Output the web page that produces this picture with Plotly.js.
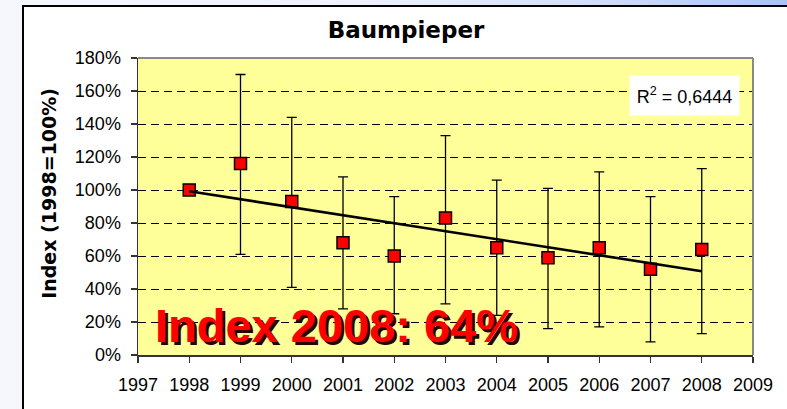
<!DOCTYPE html>
<html>
<head>
<meta charset="utf-8">
<script src="https://cdn.plot.ly/plotly-3.0.1.min.js"></script>
<style>
  html, body { margin: 0; padding: 0; width: 787px; height: 409px; overflow: hidden; }
  body { background: linear-gradient(90deg, #f5f7fd 0%, #eef2fc 45%, #d2dffa 75%, #a9c3f5 100%); position: relative; }
  #box { position: absolute; left: 22px; top: 5px; width: 800px; height: 420px; background: #ffffff;
         border-left: 2px solid #000; border-top: 2px solid #000; }
  #chart { position: absolute; left: 0; top: 0; width: 787px; height: 409px; }
</style>
</head>
<body>
<div id="box"></div>
<div id="chart"></div>
<script>
// ---- data ----
const years      = [1998, 1999, 2000, 2001, 2002, 2003, 2004, 2005, 2006, 2007, 2008];
const indexVals  = [100, 116, 93, 68, 60, 83, 65, 59, 65, 52, 64];
const errPlus    = [0, 54, 51, 40, 36, 50, 41, 42, 46, 44, 49];
const errMinus   = [0, 55, 52, 40, 35, 52, 41, 43, 48, 44, 51];
const yTickVals  = [0, 20, 40, 60, 80, 100, 120, 140, 160, 180];
const xTickVals  = [1997, 1998, 1999, 2000, 2001, 2002, 2003, 2004, 2005, 2006, 2007, 2008, 2009];
const chartTitle = 'Baumpieper';
const yTitle     = 'Index (1998=100%)';
const r2Text     = 'R<sup>2</sup> = 0,6444';
const bigLabel   = 'Index 2008: 64%';

// linear trend (least squares) from the data
const n = years.length;
const mx = years.reduce((a, b) => a + b, 0) / n;
const my = indexVals.reduce((a, b) => a + b, 0) / n;
let sxy = 0, sxx = 0;
for (let i = 0; i < n; i++) { sxy += (years[i] - mx) * (indexVals[i] - my); sxx += (years[i] - mx) ** 2; }
const slope = sxy / sxx, icpt = my - slope * mx;
const trendX = [years[0], years[n - 1]];
const trendY = trendX.map(x => icpt + slope * x);

const font = 'Arial, "Liberation Sans", sans-serif';
const boldWide = '"DejaVu Sans", Arial, sans-serif';

const traces = [
  {
    x: years, y: indexVals, type: 'scatter', mode: 'markers',
    marker: { symbol: 'square', size: 12, color: '#ff0000', line: { color: '#000', width: 1.5 } },
    error_y: { type: 'data', symmetric: false, array: errPlus, arrayminus: errMinus,
               color: '#000', thickness: 1.3, width: 5 },
    hoverinfo: 'skip', showlegend: false
  },
  {
    x: trendX, y: trendY, type: 'scatter', mode: 'lines',
    line: { color: '#000', width: 2.6 }, hoverinfo: 'skip', showlegend: false
  }
];

const layout = {
  width: 787, height: 409,
  margin: { l: 138, r: 34, t: 58, b: 54 },
  paper_bgcolor: 'rgba(0,0,0,0)',
  plot_bgcolor: '#ffff99',
  font: { family: font, color: '#000', size: 18 },
  title: { text: '<b>' + chartTitle + '</b>', font: { family: boldWide, size: 23, color: '#000' },
           xref: 'container', x: 406 / 787, xanchor: 'center',
           yref: 'container', y: 1 - 30 / 409, yanchor: 'middle' },
  xaxis: {
    range: [1997, 2009], tickvals: xTickVals, ticktext: xTickVals.map(String),
    showgrid: false, zeroline: false,
    showline: true, linecolor: '#333', linewidth: 1.5,
    ticks: 'outside', ticklen: 6, tickcolor: '#333', tickwidth: 1.2,
    ticklabelstandoff: 7,
    tickfont: { family: font, size: 18, color: '#000' }
  },
  yaxis: {
    range: [0, 180], tickvals: yTickVals, ticktext: yTickVals.map(v => v + '%'),
    showgrid: true, gridcolor: '#000', gridwidth: 1, griddash: '8px,5px',
    zeroline: false,
    showline: true, linecolor: '#333', linewidth: 1.5,
    ticks: 'outside', ticklen: 6, tickcolor: '#333', tickwidth: 1.2,
    ticklabelstandoff: 6,
    tickfont: { family: font, size: 18, color: '#000' }
  },
  shapes: [
    { type: 'line', xref: 'paper', yref: 'paper', x0: 0, x1: 1, y0: 1, y1: 1,
      line: { color: '#888', width: 2 }, layer: 'above' },
    { type: 'line', xref: 'paper', yref: 'paper', x0: 1, x1: 1, y0: 0, y1: 1,
      line: { color: '#888', width: 2 }, layer: 'above' }
  ],
  annotations: [
    { text: '<b>' + yTitle + '</b>', xref: 'paper', yref: 'paper',
      x: (49 - 138) / 615, y: (355.3 - 194) / 297.3, xanchor: 'center', yanchor: 'middle',
      textangle: -90, showarrow: false, font: { family: boldWide, size: 19, color: '#000' } },
    { text: r2Text, xref: 'paper', yref: 'paper',
      x: (684.5 - 138) / 615, y: (355.3 - 95.5) / 297.3, xanchor: 'center', yanchor: 'middle',
      showarrow: false, bgcolor: '#ffffff', width: 105, height: 35, borderpad: 2,
      font: { family: font, size: 18, color: '#000' } },
    { text: '<b>' + bigLabel + '</b>', xref: 'paper', yref: 'paper',
      x: (153 - 138) / 615, y: (355.3 - 325.5) / 297.3, xanchor: 'left', yanchor: 'middle',
      xshift: 3, yshift: -3,
      showarrow: false, font: { family: font, size: 47, color: '#2a0000' } },
    { text: '<b>' + bigLabel + '</b>', xref: 'paper', yref: 'paper',
      x: (153 - 138) / 615, y: (355.3 - 325.5) / 297.3, xanchor: 'left', yanchor: 'middle',
      showarrow: false, font: { family: font, size: 47, color: '#ff0000' } }
  ]
};

Plotly.newPlot('chart', traces, layout, { staticPlot: true, displayModeBar: false });
</script>
</body>
</html>
